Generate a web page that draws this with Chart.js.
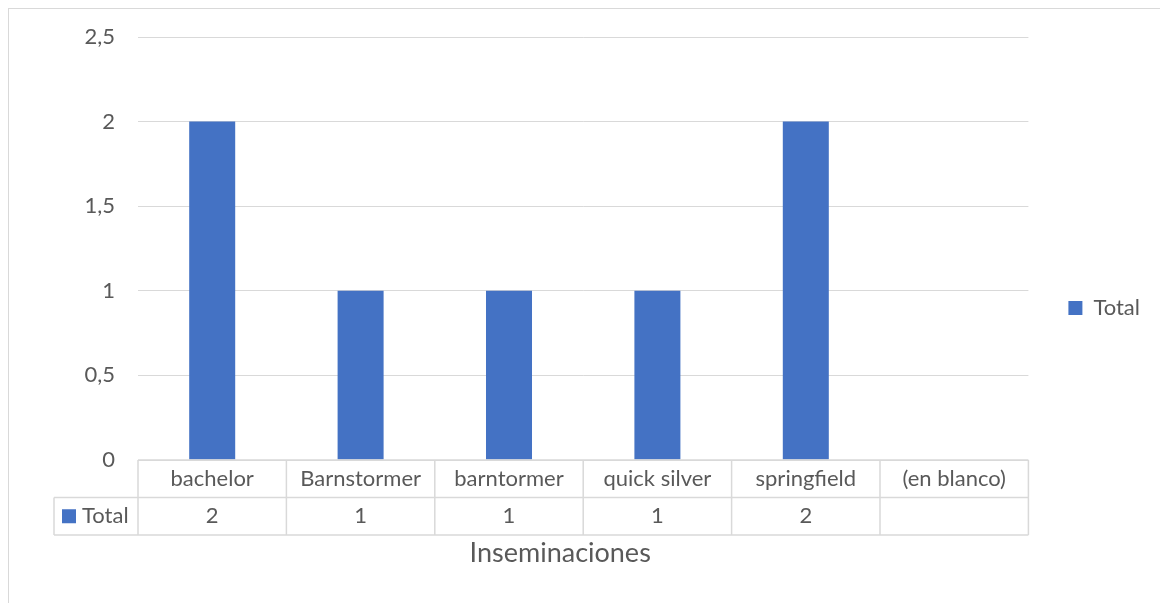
<!DOCTYPE html>
<html lang="es">
<head>
<meta charset="utf-8">
<title>Inseminaciones</title>
<script src="https://cdn.jsdelivr.net/npm/chart.js@4/dist/chart.umd.min.js"></script>
<style>
  html, body { margin: 0; padding: 0; background: #ffffff; }
  #wrap { width: 1160px; height: 603px; position: relative; }
</style>
</head>
<body>
<div id="wrap"><canvas id="chart" width="1160" height="603"></canvas></div>
<script>
// Inseminaciones por toro (tabla dinámica)
const categories = ['bachelor', 'Barnstormer', 'barntormer', 'quick silver', 'springfield', '(en blanco)'];
const seriesName = 'Total';
const totals = [2, 1, 1, 1, 2, null];
const yMin = 0;
const yMax = 2.5;
const yStep = 0.5;
const axisTitle = 'Inseminaciones';

const FONT = 'Lato, "Noto Sans", sans-serif';
const TEXT = '#595959';
const GRID = '#d9d9d9';
const BAR = '#4472C4';
const TICK_SIZE = 22;
const TITLE_SIZE = 27;

// Excel-style data table under the category axis, the axis title and the outer chart frame
const dataTablePlugin = {
  id: 'dataTable',
  beforeDraw(chart) {
    const ctx = chart.ctx;
    ctx.save();
    ctx.strokeStyle = GRID;
    ctx.lineWidth = 1;
    ctx.strokeRect(8.5, 8.5, chart.width + 20, chart.height + 20);
    ctx.restore();
  },
  afterDraw(chart) {
    const ctx = chart.ctx;
    const area = chart.chartArea;
    const x = chart.scales.x;
    const n = categories.length;
    const half = (area.right - area.left) / n / 2;
    const rowH = 37.5;
    const top = area.bottom;
    const mid = top + rowH;
    const bottom = top + 2 * rowH;
    const keyLeft = area.left - 84;

    ctx.save();
    ctx.strokeStyle = GRID;
    ctx.lineWidth = 1.5;
    ctx.beginPath();
    ctx.moveTo(area.left, top); ctx.lineTo(area.right, top);
    ctx.moveTo(keyLeft, mid); ctx.lineTo(area.right, mid);
    ctx.moveTo(keyLeft, bottom); ctx.lineTo(area.right, bottom);
    ctx.moveTo(keyLeft, mid); ctx.lineTo(keyLeft, bottom);
    for (let i = 0; i < n; i++) {
      const l = x.getPixelForValue(i) - half;
      ctx.moveTo(l, top); ctx.lineTo(l, bottom);
    }
    ctx.moveTo(area.right, top); ctx.lineTo(area.right, bottom);
    ctx.stroke();

    // legend key of the table row
    const rowMid = (mid + bottom) / 2;
    ctx.fillStyle = BAR;
    ctx.fillRect(keyLeft + 8, rowMid - 7, 14, 14);
    ctx.fillStyle = TEXT;
    ctx.font = TICK_SIZE + 'px ' + FONT;
    ctx.textBaseline = 'middle';
    ctx.textAlign = 'left';
    ctx.fillText(seriesName, keyLeft + 28, rowMid);

    // values row
    ctx.textAlign = 'center';
    totals.forEach((v, i) => {
      if (v === null || v === undefined) return;
      ctx.fillText(String(v).replace('.', ','), x.getPixelForValue(i), rowMid);
    });

    // category axis title, below the table
    ctx.font = TITLE_SIZE + 'px ' + FONT;
    ctx.fillText(axisTitle, (area.left + area.right) / 2 - 23, bottom + 18);
    ctx.restore();
  }
};

new Chart(document.getElementById('chart'), {
  type: 'bar',
  data: {
    labels: categories,
    datasets: [{
      label: seriesName,
      data: totals,
      backgroundColor: BAR,
      borderWidth: 0,
      barPercentage: 0.31,
      categoryPercentage: 1
    }]
  },
  options: {
    responsive: false,
    animation: false,
    layout: { padding: { top: 37, right: 10, bottom: 24, left: 0 } },
    plugins: {
      tooltip: { enabled: false },
      legend: {
        position: 'right',
        labels: {
          color: TEXT,
          font: { family: FONT, size: TICK_SIZE },
          boxWidth: 14,
          boxHeight: 14,
          padding: 40
        }
      }
    },
    scales: {
      x: {
        grid: { display: false },
        border: { display: false },
        ticks: {
          color: TEXT,
          font: { family: FONT, size: TICK_SIZE },
          padding: -2,
          autoSkip: false,
          maxRotation: 0
        },
        afterFit(scale) { scale.height = 119; }
      },
      y: {
        min: yMin,
        max: yMax,
        grid: { color: GRID, lineWidth: 1, drawTicks: false },
        border: { display: false },
        ticks: {
          stepSize: yStep,
          color: TEXT,
          font: { family: FONT, size: TICK_SIZE },
          padding: 23,
          callback: v => String(v).replace('.', ',')
        },
        afterFit(scale) { scale.width = 138; }
      }
    }
  },
  plugins: [dataTablePlugin]
});
</script>
</body>
</html>
